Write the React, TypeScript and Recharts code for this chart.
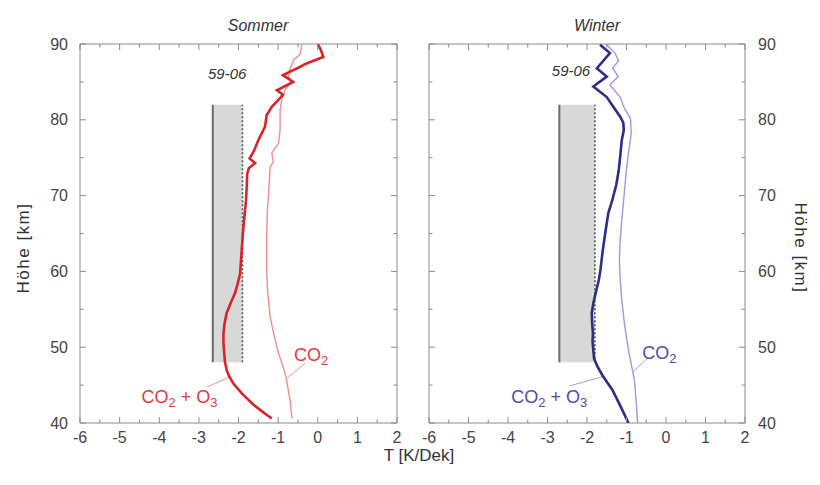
import React from 'react';
import { ComposedChart, Scatter, XAxis, YAxis, ReferenceArea, ReferenceLine, ReferenceDot } from 'recharts';

// Achsen
const xTicks = [-6, -5.5, -5, -4.5, -4, -3.5, -3, -2.5, -2, -1.5, -1, -0.5, 0, 0.5, 1, 1.5, 2];
const yTicks = [40, 45, 50, 55, 60, 65, 70, 75, 80, 85, 90];

// Profile: [Höhe km, T K/Dek]
const sommerCO2O3: [number, number][] = [
  [40.6, -1.16], [41.5, -1.4], [42.4, -1.62], [43.8, -1.9], [45.2, -2.13], [46.2, -2.24], [47.0, -2.3],
  [48.0, -2.34], [49.2, -2.36], [50.5, -2.38], [51.8, -2.38], [53.2, -2.35], [54.5, -2.3], [55.8, -2.2],
  [57.1, -2.09], [58.4, -2.02], [59.7, -1.96], [62.0, -1.93], [65.0, -1.89], [67.2, -1.85], [69.4, -1.81],
  [71.5, -1.79], [72.9, -1.78], [73.6, -1.74], [74.3, -1.58], [74.9, -1.72], [75.8, -1.62], [77.3, -1.5],
  [79.1, -1.33], [80.6, -1.29], [81.7, -1.16], [82.6, -1.0], [83.3, -0.88], [83.9, -1.03], [85.0, -0.62],
  [85.9, -0.88], [87.0, -0.44], [87.4, -0.3], [88.3, 0.14], [89.2, 0.08], [90, 0.0],
];
const sommerCO2: [number, number][] = [
  [40.6, -0.65], [43.0, -0.7], [46.1, -0.8], [47.8, -0.9], [49.2, -0.99], [51.5, -1.1], [54.0, -1.2],
  [57.0, -1.26], [60.0, -1.29], [62.8, -1.29], [65.0, -1.29], [68.0, -1.27], [70.3, -1.24], [73.8, -1.2],
  [74.4, -1.12], [75.6, -1.16], [76.9, -0.99], [78.7, -0.95], [81.3, -0.95], [82.6, -0.91], [84.0, -0.82],
  [85.0, -0.68], [86.0, -0.75], [87.9, -0.61], [88.6, -0.45], [89.3, -0.42], [90, -0.4],
];
const winterCO2O3: [number, number][] = [
  [40, -0.95], [42.2, -1.15], [44.4, -1.36], [46.2, -1.6], [47.5, -1.74], [48.5, -1.82], [49.6, -1.84],
  [50.8, -1.86], [51.8, -1.85], [53.2, -1.87], [54.5, -1.88], [55.8, -1.84], [56.7, -1.8], [58.9, -1.7],
  [60.2, -1.66], [62.8, -1.6], [65.0, -1.54], [67.7, -1.46], [69.4, -1.36], [71.4, -1.26], [73.2, -1.2],
  [75.1, -1.16], [77.3, -1.12], [78.6, -1.07], [79.6, -1.08], [80.4, -1.16], [81.7, -1.33], [83.0, -1.5],
  [84.4, -1.84], [85.7, -1.5], [86.8, -1.75], [88.8, -1.42], [89.9, -1.67],
];
const winterCO2: [number, number][] = [
  [40, -0.72], [42.5, -0.75], [45.7, -0.8], [49.6, -0.95], [53.0, -1.05], [56.2, -1.12], [59.0, -1.16],
  [61.5, -1.18], [64.0, -1.16], [66.8, -1.12], [69.0, -1.08], [71.2, -1.04], [73.5, -1.0], [75.6, -0.95],
  [78.2, -0.88], [80.2, -0.9], [81.5, -1.05], [83.0, -1.16], [84.6, -1.42], [85.7, -1.21], [86.8, -1.35],
  [87.8, -1.2], [88.8, -1.29], [89.9, -1.5],
];

// Beobachtung 59-06 (grauer Bereich)
const sommerBox = [-2.65, -1.9];
const winterBox = [-2.7, -1.8];
const boxHeights = [48, 82];

const FONT = 'Liberation Sans, Arial, sans-serif';
const AXIS = '#8a8a8a';

const toPts = (arr: [number, number][]) => arr.map(([h, t]) => ({ h, t }));

// Striche nach innen, Beschriftung nur an den Hauptmarken
const AxisTick = (props: any) => {
  const { x, y, payload, side, labels } = props;
  const v = payload.value;
  const major = side === 'left' || side === 'right' ? v % 10 === 0 : Number.isInteger(v);
  const len = major ? 6 : 3.5;
  let line;
  let text = null;
  const ts = { fontSize: 16, fill: '#444', fontFamily: FONT };
  if (side === 'bottom') {
    line = <line x1={x} y1={y} x2={x} y2={y - len} stroke={AXIS} />;
    if (labels && major) text = <text x={x} y={y + 20} textAnchor="middle" {...ts}>{v}</text>;
  } else if (side === 'top') {
    line = <line x1={x} y1={y} x2={x} y2={y + len} stroke={AXIS} />;
  } else if (side === 'left') {
    line = <line x1={x} y1={y} x2={x + len} y2={y} stroke={AXIS} />;
    if (labels && major) text = <text x={x - 12} y={y + 5.5} textAnchor="end" {...ts}>{v}</text>;
  } else {
    line = <line x1={x} y1={y} x2={x - len} y2={y} stroke={AXIS} />;
    if (labels && major) text = <text x={x + 13} y={y + 5.5} textAnchor="start" {...ts}>{v}</text>;
  }
  return <g>{line}{text}</g>;
};

const noDot = () => <g />;

const Chem = ({ cx, cy, parts, color, size = 18 }: any) => (
  <text x={cx} y={cy} fill={color} fontSize={size} fontFamily={FONT}>
    {parts.map((p: string, i: number) =>
      /^[0-9]$/.test(p) ? (
        <tspan key={i} fontSize={size * 0.72} dy={4}>{p}</tspan>
      ) : (
        <tspan key={i} dy={i > 0 && /^[0-9]$/.test(parts[i - 1]) ? -4 : 0}>{p}</tspan>
      )
    )}
  </text>
);

const Panel = ({ combined, co2, box, thick, thin, labelColor, yLabels, margin, notes }: any) => (
  <ComposedChart width={410} height={485} margin={margin}>
    <XAxis xAxisId="b" type="number" dataKey="t" domain={[-6, 2]} ticks={xTicks} interval={0}
      allowDataOverflow orientation="bottom" height={30} tickSize={0} tickMargin={0} tickLine={false}
      axisLine={{ stroke: AXIS }} tick={(p: any) => <AxisTick {...p} side="bottom" labels />} />
    <XAxis xAxisId="t" type="number" dataKey="t" domain={[-6, 2]} ticks={xTicks} interval={0}
      allowDataOverflow orientation="top" height={1} tickSize={0} tickMargin={0} tickLine={false}
      axisLine={{ stroke: AXIS }} tick={(p: any) => <AxisTick {...p} side="top" />} />
    <YAxis yAxisId="l" type="number" dataKey="h" domain={[40, 90]} ticks={yTicks} interval={0}
      allowDataOverflow orientation="left" width={1} tickSize={0} tickMargin={0} tickLine={false}
      axisLine={{ stroke: AXIS }} tick={(p: any) => <AxisTick {...p} side="left" labels={yLabels === 'left'} />} />
    <YAxis yAxisId="r" type="number" dataKey="h" domain={[40, 90]} ticks={yTicks} interval={0}
      allowDataOverflow orientation="right" width={1} tickSize={0} tickMargin={0} tickLine={false}
      axisLine={{ stroke: AXIS }} tick={(p: any) => <AxisTick {...p} side="right" labels={yLabels === 'right'} />} />

    <ReferenceArea xAxisId="b" yAxisId="l" x1={box[0]} x2={box[1]} y1={boxHeights[0]} y2={boxHeights[1]}
      fill="#d8d8d8" fillOpacity={1} stroke="none" />
    <ReferenceLine xAxisId="b" yAxisId="l" segment={[{ x: box[0], y: boxHeights[0] }, { x: box[0], y: boxHeights[1] }]}
      stroke="#6a6a6a" strokeWidth={2} />
    <ReferenceLine xAxisId="b" yAxisId="l" segment={[{ x: box[1], y: boxHeights[0] }, { x: box[1], y: boxHeights[1] }]}
      stroke="#555" strokeWidth={1.6} strokeDasharray="2 2" />

    <Scatter xAxisId="b" yAxisId="l" data={toPts(co2)} line={{ stroke: thin, strokeWidth: 1.4 }}
      lineJointType="linear" shape={noDot} isAnimationActive={false} />
    <Scatter xAxisId="b" yAxisId="l" data={toPts(combined)} line={{ stroke: thick, strokeWidth: 2.6 }}
      lineJointType="linear" shape={noDot} isAnimationActive={false} />

    {notes.leaders.map((s: any, i: number) => (
      <ReferenceLine key={'l' + i} xAxisId="b" yAxisId="l" segment={s} stroke={thin} strokeWidth={1} />
    ))}
    <ReferenceDot xAxisId="b" yAxisId="l" x={notes.period[0]} y={notes.period[1]} r={0}
      shape={(p: any) => (
        <text x={p.cx} y={p.cy} fontSize={15} fontStyle="italic" fill="#333" fontFamily={FONT}>59-06</text>
      )} />
    <ReferenceDot xAxisId="b" yAxisId="l" x={notes.co2[0]} y={notes.co2[1]} r={0}
      shape={(p: any) => <Chem {...p} parts={['CO', '2']} color={labelColor} />} />
    <ReferenceDot xAxisId="b" yAxisId="l" x={notes.both[0]} y={notes.both[1]} r={0}
      shape={(p: any) => <Chem {...p} parts={['CO', '2', ' + O', '3']} color={labelColor} />} />
  </ComposedChart>
);

export default function App() {
  return (
    <div style={{ position: 'absolute', left: 0, top: 0, width: 820, height: 485, background: '#fff' }}>
      <div style={{ position: 'absolute', left: 0, top: 0 }}>
        <Panel combined={sommerCO2O3} co2={sommerCO2} box={sommerBox}
          thick="#d8232a" thin="#ef8f8f" labelColor="#e03a3e" yLabels="left"
          margin={{ top: 43, right: 12, bottom: 32, left: 79 }}
          notes={{
            period: [-2.77, 85.4], co2: [-0.6, 48.2], both: [-4.45, 42.6],
            leaders: [
              [{ x: -0.32, y: 47.9 }, { x: -0.77, y: 45.9 }],
              [{ x: -2.79, y: 44.75 }, { x: -2.21, y: 46.1 }],
            ],
          }} />
      </div>
      <div style={{ position: 'absolute', left: 410, top: 0 }}>
        <Panel combined={winterCO2O3} co2={winterCO2} box={winterBox}
          thick="#2e2e86" thin="#9a9ade" labelColor="#4c4cae" yLabels="right"
          margin={{ top: 43, right: 74, bottom: 32, left: 18 }}
          notes={{
            period: [-2.89, 85.8], co2: [-0.6, 48.4], both: [-3.92, 42.6],
            leaders: [
              [{ x: -0.46, y: 48.6 }, { x: -0.84, y: 46.7 }],
              [{ x: -2.43, y: 44.9 }, { x: -1.54, y: 46.2 }],
            ],
          }} />
      </div>
      <svg width={820} height={485} style={{ position: 'absolute', left: 0, top: 0, pointerEvents: 'none' }}>
        <g fontFamily={FONT} fill="#333">
          <text x={258} y={31} textAnchor="middle" fontSize={16} fontStyle="italic">Sommer</text>
          <text x={597} y={31} textAnchor="middle" fontSize={16} fontStyle="italic">Winter</text>
          <text x={419} y={461} textAnchor="middle" fontSize={17}>T [K/Dek]</text>
          <text x={0} y={0} textAnchor="middle" fontSize={17} letterSpacing={1.5}
            transform="translate(29,248) rotate(-90)">Höhe [km]</text>
          <text x={0} y={0} textAnchor="middle" fontSize={17} letterSpacing={1.5}
            transform="translate(795,248) rotate(90)">Höhe [km]</text>
        </g>
      </svg>
    </div>
  );
}
